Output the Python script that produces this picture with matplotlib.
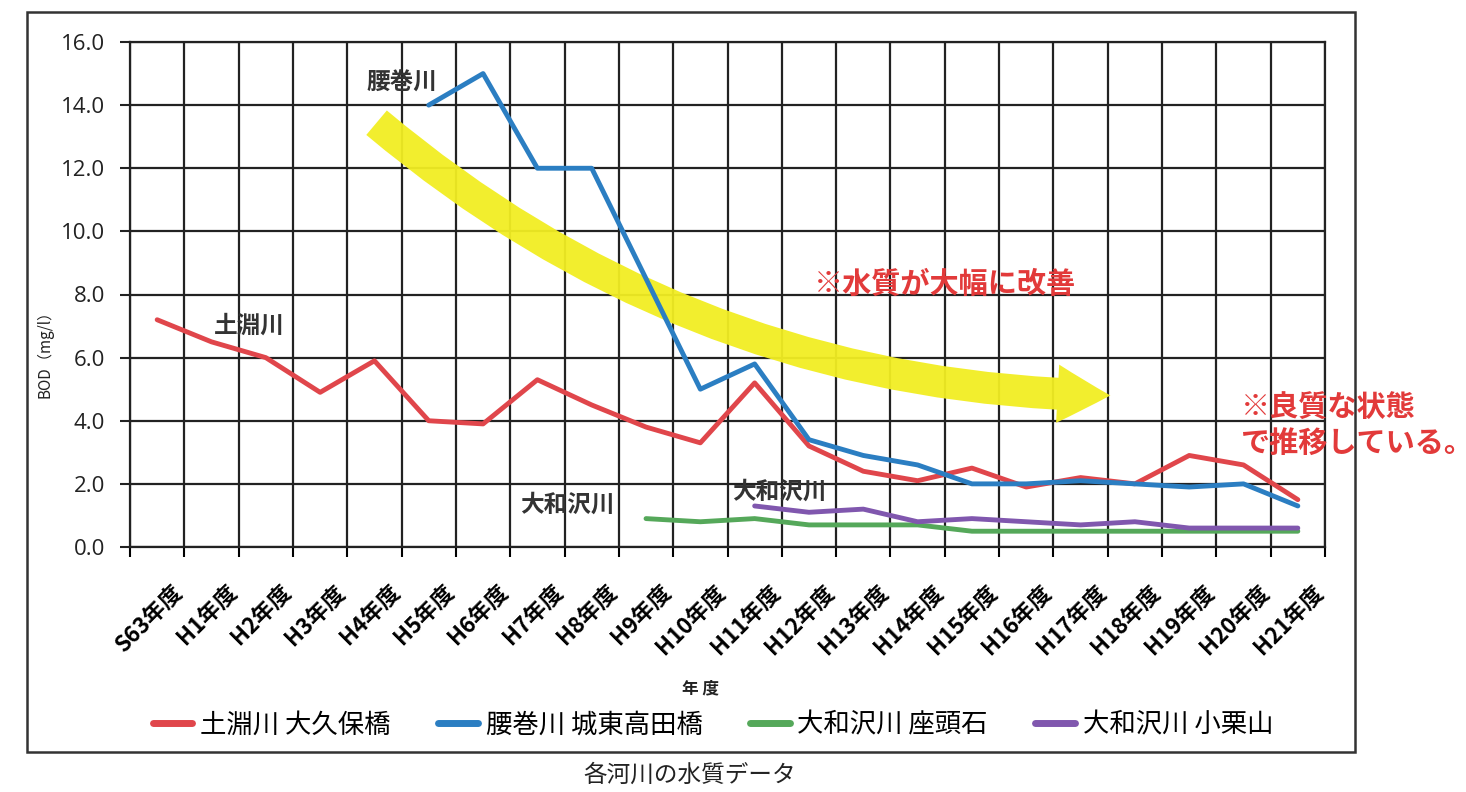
import numpy as np
import matplotlib
matplotlib.use('Agg')
import matplotlib.pyplot as plt
from matplotlib.patches import FancyArrowPatch, Rectangle
import matplotlib.transforms as mtransforms

plt.rcParams['font.family'] = ['Noto Sans CJK JP', 'DejaVu Sans']

# 年度
years = ['S63年度'] + ['H%d年度' % i for i in range(1, 22)]

# BOD (mg/l) 各河川
tsuchibuchi = [7.2, 6.5, 6.0, 4.9, 5.9, 4.0, 3.9, 5.3, 4.5, 3.8, 3.3, 5.2,
               3.2, 2.4, 2.1, 2.5, 1.9, 2.2, 2.0, 2.9, 2.6, 1.5]
koshimaki = [None, None, None, None, None, 14.0, 15.0, 12.0, 12.0, 8.5, 5.0, 5.8,
             3.4, 2.9, 2.6, 2.0, 2.0, 2.1, 2.0, 1.9, 2.0, 1.3]
yamato_zato = [None] * 9 + [0.9, 0.8, 0.9, 0.7, 0.7, 0.7, 0.5, 0.5, 0.5, 0.5, 0.5, 0.5, 0.5]
yamato_oguri = [None] * 11 + [1.3, 1.1, 1.2, 0.8, 0.9, 0.8, 0.7, 0.8, 0.6, 0.6, 0.6]

series = [
    ('土淵川 大久保橋', tsuchibuchi, '#e0464b'),
    ('腰巻川 城東高田橋', koshimaki, '#2b7ec2'),
    ('大和沢川 座頭石', yamato_zato, '#55a85a'),
    ('大和沢川 小栗山', yamato_oguri, '#8057ae'),
]

fig = plt.figure(figsize=(14.66, 7.92), dpi=100)
fig.patch.set_facecolor('white')

# 外枠
fig.patches.append(Rectangle((27 / 1466, 1 - 752 / 792), 1328 / 1466, 740 / 792,
                             transform=fig.transFigure, fill=False,
                             edgecolor='#333333', linewidth=1.8, zorder=0))

ax = fig.add_axes([130 / 1466, 1 - 547 / 792, 1195 / 1466, 505 / 792])
x = np.arange(len(years))

for name, vals, col in series:
    v = np.array([np.nan if a is None else a for a in vals], dtype=float)
    ax.plot(x, v, color=col, linewidth=3.5, label=name, solid_capstyle='round', zorder=3)

ax.set_xlim(-0.5, len(years) - 0.5)
ax.set_ylim(0, 16)
ax.set_yticks(np.arange(0, 16.1, 2))
ax.set_yticklabels(['%.1f' % t for t in np.arange(0, 16.1, 2)], fontsize=16,
                   family=['Open Sans', 'DejaVu Sans'])
ax.set_xticks(x)
ax.set_xticklabels(years, rotation=45, ha='right', va='center',
                   rotation_mode='anchor', fontsize=16, fontweight='bold')
ax.set_xticks(np.arange(-0.5, len(years)), minor=True)
ax.tick_params(axis='x', which='major', length=0, pad=30)
ax.tick_params(axis='x', which='minor', length=7, width=1.5, direction='out')
ax.tick_params(axis='y', length=7, width=1.5, direction='out', pad=11, colors='#222222')
ax.grid(True, which='minor', axis='x', color='#222222', linewidth=1.6, zorder=1)
ax.grid(True, which='major', axis='y', color='#222222', linewidth=1.6, zorder=1)
ax.set_axisbelow(True)
for s in ax.spines.values():
    s.set_color('#222222')
    s.set_linewidth(1.6)

offset = mtransforms.ScaledTranslation(0.22, 0, fig.dpi_scale_trans)
for lbl in ax.get_xticklabels():
    lbl.set_transform(lbl.get_transform() + offset)

# 黄色の矢印
arrow = FancyArrowPatch((4.0, 13.5), (17.6, 4.8), connectionstyle='arc3,rad=0.18',
                        arrowstyle='simple,head_width=42,head_length=38,tail_width=23',
                        color='#f2ee22', alpha=0.95, zorder=2, linewidth=0)
ax.add_patch(arrow)

# 注記
ax.text(4.5, 14.7, '腰巻川', fontsize=17, fontweight='bold', color='#333333',
        ha='center', va='center', zorder=4)
ax.text(1.7, 7.0, '土淵川', fontsize=17, fontweight='bold', color='#333333',
        ha='center', va='center', zorder=4)
ax.text(7.55, 1.33, '大和沢川', fontsize=17, fontweight='bold', color='#333333',
        ha='center', va='center', zorder=4)
ax.text(11.45, 1.74, '大和沢川', fontsize=17, fontweight='bold', color='#333333',
        ha='center', va='center', zorder=4)
ax.text(14.5, 8.35, '※水質が大幅に改善', fontsize=21, fontweight='bold', color='#e23a3a',
        ha='center', va='center', zorder=4)
ax.text(19.95, 3.86, '※良質な状態\nで推移している。', fontsize=21, fontweight='bold',
        color='#e23a3a', ha='left', va='center', linespacing=1.25, zorder=4,
        clip_on=False)

fig.text(45 / 1466, 1 - 350 / 792, 'BOD（mg/l）', rotation=90, fontsize=11,
         ha='center', va='center', color='#222222')
fig.text(700 / 1466, 1 - 688 / 792, '年 度', fontsize=12, fontweight='bold',
         ha='center', va='center', color='#222222')

fig.legend(loc='center', bbox_to_anchor=(713 / 1466, 1 - 725 / 792), ncol=4,
           frameon=False, fontsize=19, handlelength=1.5, handletextpad=0.3,
           columnspacing=1.8)
for lh in fig.legends[0].get_lines():
    lh.set_linewidth(5)

fig.text(690 / 1466, 1 - 775 / 792, '各河川の水質データ', fontsize=17,
         ha='center', va='center', color='#222222')

fig.savefig('out.png', dpi=100, facecolor='white')
